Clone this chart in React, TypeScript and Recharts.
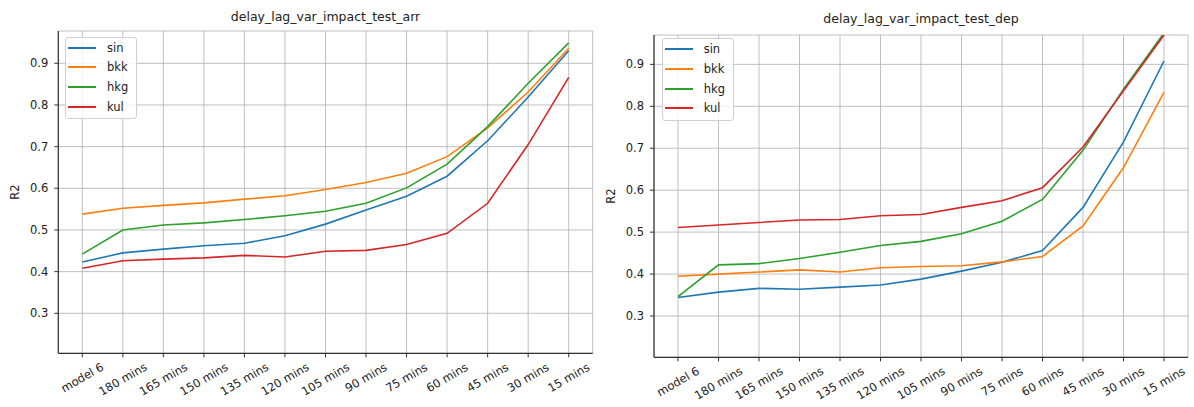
import React from 'react';
import { LineChart, Line, XAxis, YAxis, CartesianGrid, Legend, Label } from 'recharts';

const categories = ['model 6', '180 mins', '165 mins', '150 mins', '135 mins', '120 mins', '105 mins', '90 mins', '75 mins', '60 mins', '45 mins', '30 mins', '15 mins'];
const yTicks = [0.3, 0.4, 0.5, 0.6, 0.7, 0.8, 0.9];
const seriesNames = ['sin', 'bkk', 'hkg', 'kul'];

const arrSin = [0.423, 0.445, 0.454, 0.462, 0.468, 0.486, 0.514, 0.548, 0.581, 0.629, 0.714, 0.819, 0.930];
const arrBkk = [0.538, 0.552, 0.559, 0.565, 0.574, 0.582, 0.597, 0.614, 0.636, 0.676, 0.745, 0.831, 0.936];
const arrHkg = [0.442, 0.500, 0.512, 0.517, 0.525, 0.534, 0.545, 0.564, 0.601, 0.658, 0.748, 0.852, 0.949];
const arrKul = [0.408, 0.426, 0.430, 0.433, 0.439, 0.435, 0.449, 0.451, 0.465, 0.492, 0.564, 0.705, 0.866];

const depSin = [0.344, 0.357, 0.366, 0.364, 0.369, 0.374, 0.388, 0.407, 0.428, 0.456, 0.559, 0.715, 0.908];
const depBkk = [0.395, 0.400, 0.405, 0.410, 0.405, 0.415, 0.418, 0.420, 0.429, 0.442, 0.515, 0.654, 0.833];
const depHkg = [0.346, 0.422, 0.425, 0.437, 0.452, 0.468, 0.478, 0.496, 0.526, 0.578, 0.695, 0.841, 0.975];
const depKul = [0.511, 0.517, 0.523, 0.529, 0.530, 0.539, 0.542, 0.559, 0.575, 0.606, 0.703, 0.837, 0.970];

const COLORS: Record<string, string> = { sin: '#1f77b4', bkk: '#ff7f0e', hkg: '#2ca02c', kul: '#d62728' };
const FONT = '"DejaVu Sans", sans-serif';
const TEXT = '#222';
const SPINE = '#333';

function buildRows(sin: number[], bkk: number[], hkg: number[], kul: number[]) {
  return categories.map((cat, i) => ({ cat, sin: sin[i], bkk: bkk[i], hkg: hkg[i], kul: kul[i] }));
}

const arrRows = buildRows(arrSin, arrBkk, arrHkg, arrKul);
const depRows = buildRows(depSin, depBkk, depHkg, depKul);

const XTick = (props: any) => {
  const { x, y, payload } = props;
  const label = String(payload.value);
  const w = label.length * 6.6;
  const cy = y + (w * 0.5 + 13 * 0.866) / 2;
  return (
    <text x={x} y={cy} transform={`rotate(-30 ${x} ${cy})`} textAnchor="middle" dominantBaseline="central"
      fontFamily={FONT} fontSize={11.5} fill={TEXT}>{label}</text>
  );
};

const LegendBox = (props: any) => {
  const payload = [...(props.payload || [])].sort(
    (a: any, b: any) => seriesNames.indexOf(a.value) - seriesNames.indexOf(b.value)
  );
  return (
    <div style={{ border: '1px solid #d0d0d0', borderRadius: 3, background: 'rgba(255,255,255,0.8)', padding: '0px 8px 2px 2px', fontFamily: FONT, fontSize: 11.5, color: TEXT }}>
      {payload.map((p: any) => (
        <div key={p.value} style={{ display: 'flex', alignItems: 'center', height: 19.7 }}>
          <span style={{ display: 'inline-block', width: 28, height: 2, background: p.color, marginRight: 11 }} />
          <span>{p.value}</span>
        </div>
      ))}
    </div>
  );
};

type PanelProps = {
  title: string;
  rows: any[];
  domain: [number, number];
  width: number;
  margin: { top: number; right: number; bottom: number; left: number };
  legendPos: { left: number; top: number };
  titleBaseline: number;
};

const Panel = ({ title, rows, domain, width, margin, legendPos, titleBaseline }: PanelProps) => {
  const plotLeft = margin.left + 40;
  const plotWidth = width - plotLeft - margin.right;
  return (
    <div style={{ position: 'relative', width, height: 407 }}>
      <div style={{ position: 'absolute', left: plotLeft, width: plotWidth, top: titleBaseline - 10.6, textAlign: 'center',
        fontFamily: FONT, fontSize: 12.5, lineHeight: '12.5px', color: TEXT, whiteSpace: 'nowrap', zIndex: 2 }}>{title}</div>
      <LineChart width={width} height={407} data={rows} margin={margin}>
        <CartesianGrid stroke="#b0b0b0" strokeWidth={0.8} />
        <XAxis dataKey="cat" type="category" height={46} padding={{ left: 24, right: 24 }} interval={0}
          tickSize={4} tickMargin={3} tickLine={{ stroke: SPINE }} axisLine={{ stroke: SPINE, strokeWidth: 1.2 }} tick={<XTick />} />
        <XAxis xAxisId="top" dataKey="cat" type="category" orientation="top" height={0} padding={{ left: 24, right: 24 }}
          tick={false} tickLine={false} axisLine={{ stroke: SPINE, strokeWidth: 1.2 }} />
        <YAxis domain={domain} allowDataOverflow ticks={yTicks} width={40} tickSize={4} tickMargin={6}
          tickFormatter={(v: number) => v.toFixed(1)} tick={{ fontFamily: FONT, fontSize: 11.5, fill: TEXT }}
          tickLine={{ stroke: SPINE }} axisLine={{ stroke: SPINE, strokeWidth: 1.2 }}>
          <Label content={(p: any) => {
            const vb = p.viewBox || {};
            const cx = vb.x - 3;
            const cy = vb.y + vb.height / 2;
            return (
              <text x={cx} y={cy} transform={`rotate(-90 ${cx} ${cy})`} textAnchor="middle" dominantBaseline="central"
                fontFamily={FONT} fontSize={11.5} fill={TEXT}>R2</text>
            );
          }} />
        </YAxis>
        <YAxis yAxisId="right" orientation="right" domain={domain} allowDataOverflow width={0} tick={false} tickLine={false}
          axisLine={{ stroke: SPINE, strokeWidth: 1.2 }} />
        {seriesNames.map((n) => (
          <Line key={n} type="linear" dataKey={n} name={n} stroke={COLORS[n]} strokeWidth={1.6} dot={false} isAnimationActive={false} />
        ))}
        <Legend layout="vertical" align="center" verticalAlign="middle" content={<LegendBox />}
          wrapperStyle={{ position: 'absolute', left: legendPos.left, top: legendPos.top, width: 'auto', height: 'auto', margin: 0 }} />
      </LineChart>
    </div>
  );
};

export default function App() {
  return (
    <div style={{ position: 'absolute', left: 0, top: 0, width: 1194, height: 407, background: '#fff' }}>
      <div style={{ position: 'absolute', left: 0, top: 0 }}>
        <Panel title="delay_lag_var_impact_test_arr" rows={arrRows} domain={[0.204, 0.9775]} width={600}
          margin={{ top: 31, right: 7.3, bottom: 7.7, left: 18.3 }} legendPos={{ left: 65, top: 36.7 }} titleBaseline={21.5} />
      </div>
      <div style={{ position: 'absolute', left: 597, top: 0 }}>
        <Panel title="delay_lag_var_impact_test_dep" rows={depRows} domain={[0.2016, 0.97]} width={597}
          margin={{ top: 35, right: 6, bottom: 3.7, left: 17 }} legendPos={{ left: 64.7, top: 38.3 }} titleBaseline={24} />
      </div>
    </div>
  );
}
